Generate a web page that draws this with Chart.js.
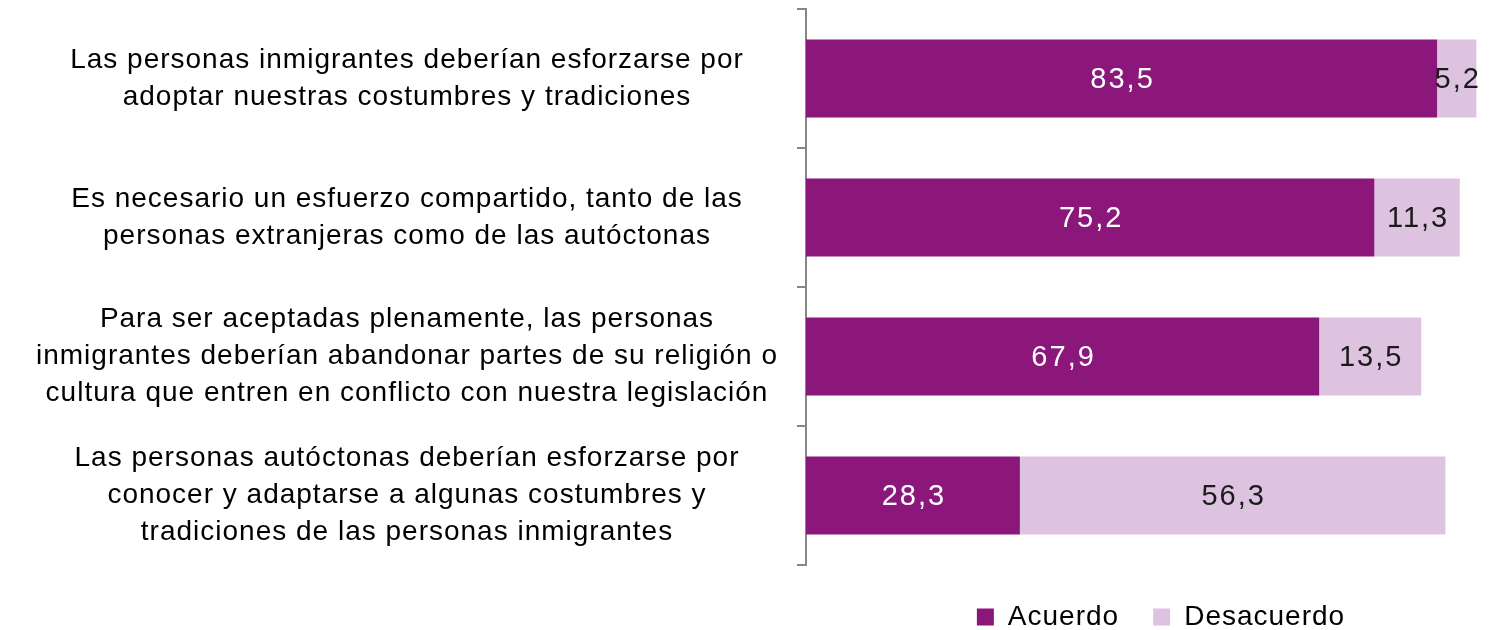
<!DOCTYPE html>
<html>
<head>
<meta charset="utf-8">
<script src="https://cdn.jsdelivr.net/npm/chart.js@4/dist/chart.umd.min.js"></script>
<style>
  html, body { margin: 0; padding: 0; background: #ffffff; }
  #wrap { width: 1494px; height: 630px; position: relative; }
</style>
</head>
<body>
<div id="wrap"><canvas id="c" width="1494" height="630"></canvas></div>
<script>
const categories = [
  ["Las personas inmigrantes deberían esforzarse por", "adoptar nuestras costumbres y tradiciones"],
  ["Es necesario un esfuerzo compartido, tanto de las", "personas extranjeras como de las autóctonas"],
  ["Para ser aceptadas plenamente, las personas", "inmigrantes deberían abandonar partes de su religión o", "cultura que entren en conflicto con nuestra legislación"],
  ["Las personas autóctonas deberían esforzarse por", "conocer y adaptarse a algunas costumbres y", "tradiciones de las personas inmigrantes"]
];
const seriesNames = ["Acuerdo", "Desacuerdo"];
const acuerdo = [83.5, 75.2, 67.9, 28.3];
const desacuerdo = [5.2, 11.3, 13.5, 56.3];

const FONT = "'Liberation Sans', Arial, sans-serif";

const spacing = {
  id: 'spacing',
  beforeUpdate(chart) { chart.ctx.letterSpacing = '1px'; },
  beforeDraw(chart) { chart.ctx.letterSpacing = '1px'; },
  afterLayout(chart) {
    if (chart.legend) { chart.legend.left += 13; chart.legend.right += 13; }
  }
};

const valueLabels = {
  id: 'valueLabels',
  afterDatasetsDraw(chart) {
    const ctx = chart.ctx;
    ctx.save();
    ctx.font = "29px " + FONT;
    ctx.letterSpacing = '2px';
    ctx.textAlign = 'center';
    ctx.textBaseline = 'middle';
    chart.data.datasets.forEach((ds, di) => {
      const meta = chart.getDatasetMeta(di);
      meta.data.forEach((bar, i) => {
        const v = ds.data[i];
        const p = bar.getProps(['x', 'y', 'base'], true);
        const cx = (p.x + p.base) / 2 + 1;
        ctx.fillStyle = di === 0 ? '#ffffff' : '#1a1a1a';
        ctx.fillText(v.toFixed(1).replace('.', ','), cx, p.y + 1);
      });
    });
    ctx.restore();
  }
};

new Chart(document.getElementById('c'), {
  type: 'bar',
  data: {
    labels: categories,
    datasets: [
      { label: seriesNames[0], data: acuerdo, backgroundColor: '#8B177B', borderWidth: 0 },
      { label: seriesNames[1], data: desacuerdo, backgroundColor: '#DDC3DF', borderWidth: 0 }
    ]
  },
  options: {
    indexAxis: 'y',
    responsive: false,
    animation: false,
    devicePixelRatio: 1,
    layout: { padding: { top: 9, right: 4, left: 0, bottom: -11 } },
    datasets: { bar: { categoryPercentage: 0.56, barPercentage: 1.0 } },
    scales: {
      x: {
        stacked: true,
        min: 0, max: 90.5,
        display: true,
        ticks: { display: false },
        grid: { display: false, drawTicks: false },
        border: { display: false },
        afterFit(s) { s.height = 4; s.paddingLeft = 0; s.paddingRight = 0; }
      },
      y: {
        stacked: true,
        grid: { display: true, drawOnChartArea: false, offset: true, tickLength: 9, color: '#878787', lineWidth: 2 },
        border: { display: true, color: '#878787', width: 2 },
        ticks: {
          crossAlign: 'center',
          padding: 19,
          color: '#000000',
          font: { family: FONT, size: 28, lineHeight: 1.33 }
        },
        afterFit(s) { s.width = 806; s.paddingTop = 0; s.paddingBottom = 0; }
      }
    },
    plugins: {
      legend: {
        position: 'bottom',
        fullSize: false,
        labels: {
          boxWidth: 17, boxHeight: 17, padding: 34,
          color: '#000000',
          font: { family: FONT, size: 28 }
        }
      },
      tooltip: { enabled: false }
    }
  },
  plugins: [spacing, valueLabels]
});
</script>
</body>
</html>
